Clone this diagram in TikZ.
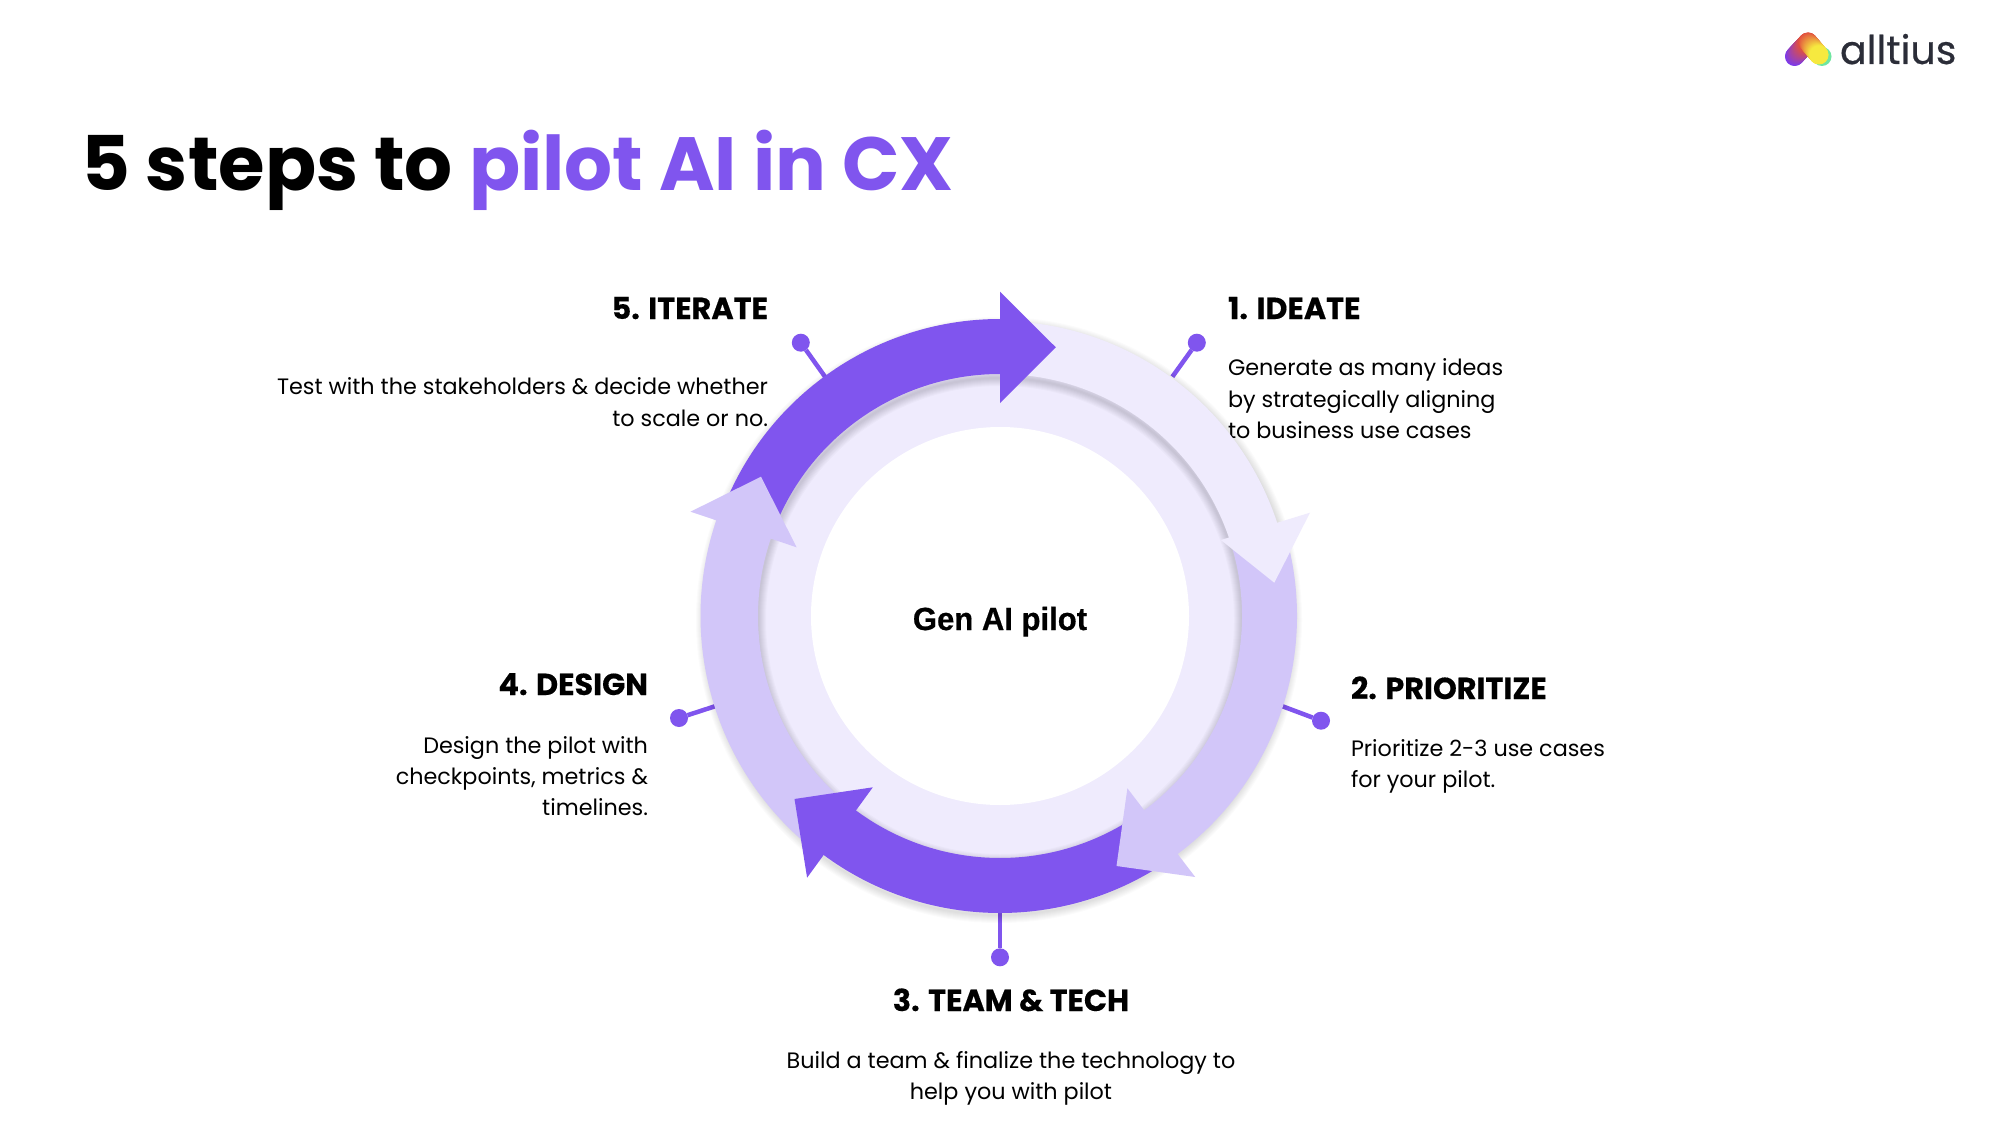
\documentclass[tikz,border=0pt]{standalone}
\usepackage{fontspec}
\setmainfont{Poppins}
\newfontfamily\headpop[BoldFeatures={FakeBold=0.35}]{Poppins}
\newfontfamily\logopop[FakeBold=0.5]{Poppins}
\newfontfamily\genfont[BoldFeatures={FakeBold=0.6,FakeStretch=0.97}]{Liberation Sans}
\definecolor{vio}{HTML}{8055EE}
\definecolor{lil}{HTML}{D2C6F9}
\definecolor{pale}{HTML}{EFEBFD}
\definecolor{logotext}{HTML}{2B2D38}
\definecolor{logoA}{HTML}{7C3AED}
\definecolor{logoB}{HTML}{E2503F}
\definecolor{logoC}{HTML}{F6E93F}
\definecolor{logoD}{HTML}{6FE6A0}
\tikzset{
  every node/.style={inner sep=0pt,outer sep=0pt},
  headfont/.style={font=\headpop\fontsize{30.3}{36}\selectfont\bfseries},
  bodyfont/.style={font=\fontsize{22.3}{31.2}\selectfont},
  leader/.style={draw=vio,line width=4.5pt},
  leaderdot/.style={circle,fill=vio,minimum size=18pt},
}
\begin{document}
\begin{tikzpicture}[x=1pt,y=-1pt]
\useasboundingbox (0,0) rectangle (2000,1126);
\fill[white] (0,0) rectangle (2000,1126);
% title
\node[anchor=base west,font=\fontsize{75.4}{90}\selectfont\bfseries] (title) at (81,191) {5 steps to \textcolor{vio}{pilot AI in CX}};
% logo
\foreach \t in {0,2,...,100}{\fill[logoB!\t!logoA] ({1794.5+13.5*\t/100},{56.5-14.5*\t/100}) circle[radius=9.5];}
\fill[logoD] (1822,56.5) circle[radius=9.5];
\foreach \t in {0,2,...,100}{\fill[logoC!\t!logoB] ({1808+11*\t/100},{42+13*\t/100}) circle[radius=9.5];}
\node[anchor=base west,font=\logopop\fontsize{39.6}{45}\selectfont,text=logotext] (logo) at (1840,64) {alltius};
% labels
\node[headfont,anchor=base west] (h1) at (1228,319) {1. IDEATE};
\node[bodyfont,anchor=north west,align=left] (b1) at (1228,359) {Generate as many ideas\\by strategically aligning\\to business use cases};
\node[headfont,anchor=base west] (h2) at (1351,699) {2. PRIORITIZE};
\node[bodyfont,anchor=north west,align=left] (b2) at (1351,739.5) {Prioritize 2-3 use cases\\for your pilot.};
\node[headfont,anchor=base] (h3) at (1011,1011) {3. TEAM \& TECH};
\node[bodyfont,anchor=north,align=center] (b3) at (1011,1051.5) {Build a team \& finalize the technology to\\help you with pilot};
\node[headfont,anchor=base east] (h4) at (648,695) {4. DESIGN};
\node[bodyfont,anchor=north east,align=right] (b4) at (648,736.5) {Design the pilot with\\checkpoints, metrics \&\\timelines.};
\node[headfont,anchor=base east] (h5) at (768,319) {5. ITERATE};
\node[bodyfont,anchor=north east,align=right] (b5) at (768,378) {Test with the stakeholders \& decide whether\\to scale or no.};
% leaders
\node[leaderdot] (d1) at (1196.8,342.7) {};
\node[leaderdot] (d2) at (1321,720.7) {};
\node[leaderdot] (d3) at (1000,957.3) {};
\node[leaderdot] (d4) at (679,718) {};
\node[leaderdot] (d5) at (800.8,342.7) {};
\coordinate (e1) at (1172.4,376.7);
\coordinate (e2) at (1281.8,706);
\coordinate (e3) at (1000,905);
\coordinate (e4) at (715.8,706);
\coordinate (e5) at (825,376.7);
\foreach \n in {1,...,5}{\draw[leader] (d\n) -- (e\n);}
\begin{scope}[shift={(1000,616)}]
% outer shadow
\foreach \w in {2,4,...,16}{\draw[black,opacity=.014,line width=\w pt] (-1,4) circle[radius=295];}
% inner disc
\fill[pale] (0,0) circle[radius=245];
% inner-edge shadow on the pale disc
\begin{scope}
\clip (0,0) circle[radius=245];
\foreach \w in {2,4,...,16}{\draw[black,opacity=.02,line width=\w pt] (0,4) circle[radius=242];}
\end{scope}
\fill[white] (0,0) circle[radius=189];
% shafts: tikz angle a points a degrees below the x axis on screen; each runs a little under its own head
\fill[pale] ([shift={(-2,-1)}]-90:294) arc[start angle=-90,end angle=-17.3,radius=294] -- (-17.3:242) arc[start angle=-17.3,end angle=-90,radius=242] -- cycle;
\fill[lil]  (-17.8:297) arc[start angle=-17.8,end angle=54.8,radius=297] -- (54.8:242) arc[start angle=54.8,end angle=-17.8,radius=242] -- cycle;
\fill[vio]  (54.3:297) arc[start angle=54.3,end angle=127.9,radius=297] -- (127.9:242) arc[start angle=127.9,end angle=54.3,radius=242] -- cycle;
\fill[lil]  ([shift={(-1,0)}]127.4:298.5) arc[start angle=127.4,end angle=200.2,radius=298.5] -- (200.2:242) arc[start angle=200.2,end angle=127.4,radius=242] -- cycle;
\fill[vio]  (199.7:297) arc[start angle=199.7,end angle=271,radius=297] -- (271:242) arc[start angle=271,end angle=199.7,radius=242] -- cycle;
\end{scope}
% heads
\fill[vio] (1000,291.7) -- (1055.8,347.3) -- (1000,403) -- cycle;
\fill[pale] (1310,512.7) -- (1274.3,582.7) -- (1220.8,540) -- cycle;
\fill[lil] (1127.4,788.3) -- (1195.2,877) -- (1116.5,866) -- cycle;
\fill[vio] (872.8,787.3) -- (794.5,799) -- (807.1,877.7) -- cycle;
\fill[lil] (690.5,511.7) -- (761,476.7) -- (796.6,547.3) -- cycle;
\node[font=\genfont\fontsize{32}{38}\selectfont\bfseries,anchor=base] (gen) at (1000,630) {Gen AI pilot};
\end{tikzpicture}
\end{document}
